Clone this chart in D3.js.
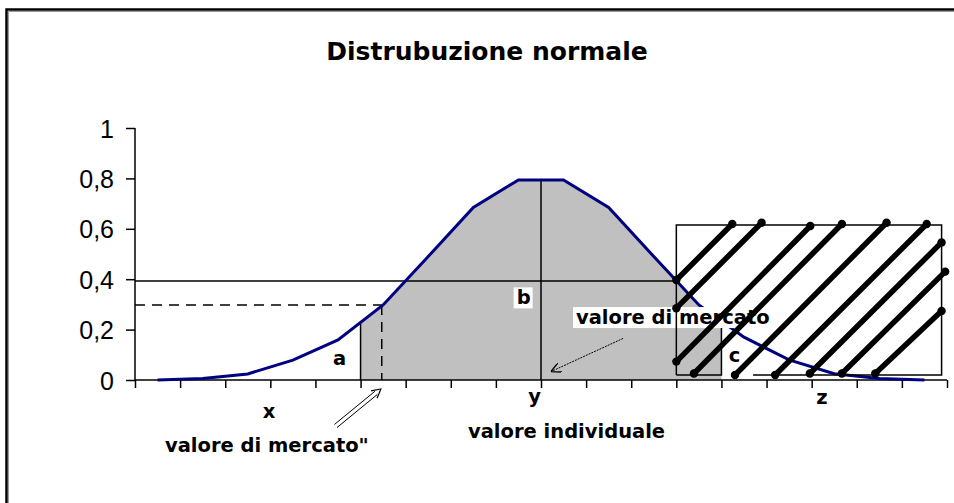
<!DOCTYPE html>
<html>
<head>
<meta charset="utf-8">
<script src="https://cdn.jsdelivr.net/npm/d3@7"></script>
<style>
  html, body { margin: 0; padding: 0; background: #fff; overflow: hidden; }
  svg { display: block; }
  .tick text { font-family: 'Liberation Sans', Arial, sans-serif; }
  .lbl { font-family: 'DejaVu Sans', Verdana, sans-serif; font-weight: bold; fill: #000; }
</style>
</head>
<body>
<div class="chart_container"></div>
<script>
'use strict';

// 18 categories, no labels on the x axis
const categories = d3.range(1, 19);
const values = [0, 0.006, 0.024, 0.079, 0.159, 0.298, 0.49, 0.685, 0.794,
  0.794, 0.685, 0.49, 0.298, 0.17, 0.08, 0.025, 0.006, 0];
const yTicks = [0, 0.2, 0.4, 0.6, 0.8, 1];

// annotations, in data units (x = category position, y = value)
const solidLevel = 0.393;
const dashedLevel = 0.298;
const dashedAt = 5.47;
const shadeFrom = 5, shadeTo = 13;
const peakAt = 9;
const boxX = [12, 17.88], boxY = [0.02, 0.615];
const cTop = 0.206;
const hatch = [
  [12, 0.397, 13.24, 0.619],
  [12, 0.285, 13.89, 0.624],
  [12, 0.073, 14.97, 0.611],
  [12.39, 0.026, 15.67, 0.619],
  [13.3, 0.02, 16.66, 0.624],
  [14.19, 0.02, 17.55, 0.619],
  [14.96, 0.026, 17.88, 0.546],
  [15.67, 0.026, 17.96, 0.43],
  [16.41, 0.026, 17.88, 0.274]
];

const width = 1000,
  height = 503;

const svg = d3.select('.chart_container')
  .append('svg')
  .attr('width', width)
  .attr('height', height);

// frame of the chart area (right/bottom edges fall outside the picture)
svg.append('path')
  .attr('d', 'M6.5,2000V9.5H2000')
  .attr('fill', 'none')
  .attr('stroke', '#000')
  .attr('stroke-width', 2.5);
svg.append('path')
  .attr('d', 'M8.5,2000V11.5H2000')
  .attr('fill', 'none')
  .attr('stroke', '#999')
  .attr('stroke-width', 1);

const xScale = d3.scaleLinear()
  .domain([0, categories.length])
  .range([135, 947]);

const yScale = d3.scaleLinear()
  .domain([0, 1])
  .range([380, 128]);

const dataset = categories.map((c, i) => ({ pos: i + 0.5, value: values[i] }));

// linear interpolation of the curve between category centres
const valueAt = u => {
  for (let i = 0; i < dataset.length - 1; i++) {
    const a = dataset[i], b = dataset[i + 1];
    if (u >= a.pos && u <= b.pos) {
      return a.value + (b.value - a.value) * (u - a.pos) / (b.pos - a.pos);
    }
  }
  return 0;
};

// shaded area under the curve
const shade = [{ pos: shadeFrom, value: valueAt(shadeFrom) }]
  .concat(dataset.filter(d => d.pos > shadeFrom && d.pos < shadeTo))
  .concat([{ pos: shadeTo, value: valueAt(shadeTo) }]);

svg.append('path')
  .datum(shade)
  .attr('fill', '#c0c0c0')
  .attr('d', d3.area()
    .x(d => xScale(d.pos))
    .y0(yScale(0))
    .y1(d => yScale(d.value)));

const line = (x1, y1, x2, y2) => svg.append('line')
  .attr('x1', xScale(x1)).attr('y1', yScale(y1))
  .attr('x2', xScale(x2)).attr('y2', yScale(y2))
  .attr('stroke', '#000')
  .attr('stroke-width', 1.5);

// reference lines
line(0, solidLevel, boxX[0], solidLevel);
line(0, dashedLevel, dashedAt, dashedLevel).attr('stroke-dasharray', '10,7');
line(dashedAt, dashedLevel, dashedAt, 0).attr('stroke-dasharray', '10,7');
line(shadeFrom, valueAt(shadeFrom), shadeFrom, 0);
line(peakAt, valueAt(peakAt), peakAt, 0);

// axes
const yAxis = d3.axisLeft(yScale)
  .tickValues(yTicks)
  .tickSize(9)
  .tickPadding(12)
  .tickFormat(d => String(d).replace('.', ','));

const xAxis = d3.axisBottom(xScale)
  .tickValues(d3.range(categories.length + 1))
  .tickSize(8)
  .tickFormat('');

const gy = svg.append('g')
  .attr('transform', `translate(${xScale(0)}, 0)`)
  .call(yAxis);
const gx = svg.append('g')
  .attr('transform', `translate(0, ${yScale(0)})`)
  .call(xAxis);

[gx, gy].forEach(g => {
  g.select('.domain').attr('stroke', '#000').attr('stroke-width', 1.5)
    .attr('d', g === gy ? `M0,${yScale(1)}V${yScale(0)}` : `M${xScale(0)},0H${xScale(categories.length)}`);
  g.selectAll('.tick line').attr('stroke', '#000').attr('stroke-width', 1.5);
});
gy.selectAll('.tick text')
  .attr('font-size', 25)
  .attr('fill', '#000')
  .attr('dy', '0.36em');

// the curve
svg.append('path')
  .datum(dataset)
  .attr('fill', 'none')
  .attr('stroke', '#000080')
  .attr('stroke-width', 3)
  .attr('d', d3.line()
    .x(d => xScale(d.pos))
    .y(d => yScale(d.value)));

// title
svg.append('text')
  .attr('class', 'lbl')
  .attr('x', 487).attr('y', 60)
  .attr('text-anchor', 'middle')
  .attr('font-size', 25)
  .text('Distrubuzione normale');

// labels with a white background
const boxedLabel = (x, y, txt, size) => {
  const t = svg.append('text')
    .attr('class', 'lbl')
    .attr('x', x).attr('y', y)
    .attr('font-size', size)
    .text(txt);
  const bb = t.node().getBBox();
  svg.insert('rect', () => t.node())
    .attr('x', bb.x - 3).attr('y', bb.y + 1)
    .attr('width', bb.width + 5).attr('height', bb.height - 2)
    .attr('fill', '#fff');
  return t;
};

const labelSize = 19.5;

svg.append('text').attr('class', 'lbl')
  .attr('x', xScale(4.39)).attr('y', yScale(0.06))
  .attr('font-size', labelSize).text('a');
boxedLabel(xScale(8.46), yScale(0.3), 'b', labelSize);
boxedLabel(576, yScale(0.222), 'valore di mercato', labelSize);
boxedLabel(xScale(13.16), yScale(0.07), 'c', labelSize);

// dashed arrow to the market value on y
svg.append('defs').append('marker')
  .attr('id', 'open')
  .attr('viewBox', '0 0 10 10')
  .attr('refX', 9).attr('refY', 5)
  .attr('markerWidth', 10).attr('markerHeight', 10)
  .attr('markerUnits', 'userSpaceOnUse')
  .attr('orient', 'auto')
  .append('path')
  .attr('d', 'M0,0L10,5L0,10')
  .attr('fill', 'none')
  .attr('stroke', '#000')
  .attr('stroke-width', 1.4);

svg.append('line')
  .attr('x1', xScale(10.82)).attr('y1', yScale(0.165))
  .attr('x2', xScale(9.24)).attr('y2', yScale(0.035))
  .attr('stroke', '#000')
  .attr('stroke-width', 1)
  .attr('stroke-dasharray', '2,1')
  .attr('marker-end', 'url(#open)');

// hollow double arrow under the axis
const ax1 = xScale(4.45), ay1 = 426, ax2 = xScale(5.45), ay2 = 389;
const ang = Math.atan2(ay2 - ay1, ax2 - ax1);
const nx = -Math.sin(ang) * 2, ny = Math.cos(ang) * 2;
[-1, 1].forEach(s => {
  svg.append('line')
    .attr('x1', ax1 + s * nx).attr('y1', ay1 + s * ny)
    .attr('x2', ax2 + s * nx - Math.cos(ang) * 6).attr('y2', ay2 + s * ny - Math.sin(ang) * 6)
    .attr('stroke', '#000').attr('stroke-width', 1);
});
svg.append('path')
  .attr('d', `M${ax2 - Math.cos(ang - 0.5) * 10},${ay2 - Math.sin(ang - 0.5) * 10}L${ax2},${ay2}L${ax2 - Math.cos(ang + 0.5) * 10},${ay2 - Math.sin(ang + 0.5) * 10}`)
  .attr('fill', 'none').attr('stroke', '#000').attr('stroke-width', 1.2);

// the hatched box
svg.append('path')
  .attr('fill', 'none')
  .attr('stroke', '#000')
  .attr('stroke-width', 1.5)
  .attr('d', `M${xScale(boxX[0])},${yScale(boxY[0])}V${yScale(boxY[1])}H${xScale(boxX[1])}V${yScale(boxY[0])}H${xScale(13.7)}`
    + `M${xScale(boxX[0])},${yScale(boxY[0])}H${xScale(shadeTo)}V${yScale(cTop)}`);

const hatchG = svg.append('g');
hatchG.selectAll('line')
  .data(hatch)
  .enter()
  .append('line')
  .attr('x1', d => xScale(d[0])).attr('y1', d => yScale(d[1]))
  .attr('x2', d => xScale(d[2])).attr('y2', d => yScale(d[3]))
  .attr('stroke', '#000')
  .attr('stroke-width', 5.5)
  .attr('stroke-linecap', 'round');
hatchG.selectAll('circle')
  .data(hatch.flatMap(d => [[d[0], d[1]], [d[2], d[3]]]))
  .enter()
  .append('circle')
  .attr('cx', d => xScale(d[0]))
  .attr('cy', d => yScale(d[1]))
  .attr('r', 4.2)
  .attr('fill', '#000');

// category names under the axis
svg.append('text').attr('class', 'lbl').attr('x', xScale(2.97)).attr('y', 418)
  .attr('text-anchor', 'middle').attr('font-size', labelSize).text('x');
svg.append('text').attr('class', 'lbl').attr('x', xScale(8.86)).attr('y', 403)
  .attr('text-anchor', 'middle').attr('font-size', labelSize).text('y');
svg.append('text').attr('class', 'lbl').attr('x', xScale(15.23)).attr('y', 404)
  .attr('text-anchor', 'middle').attr('font-size', labelSize).text('z');
svg.append('text').attr('class', 'lbl').attr('x', 468).attr('y', 438)
  .attr('font-size', labelSize).text('valore individuale');
svg.append('text').attr('class', 'lbl').attr('x', 165).attr('y', 452)
  .attr('font-size', labelSize).text('valore di mercato"');
</script>
</body>
</html>
